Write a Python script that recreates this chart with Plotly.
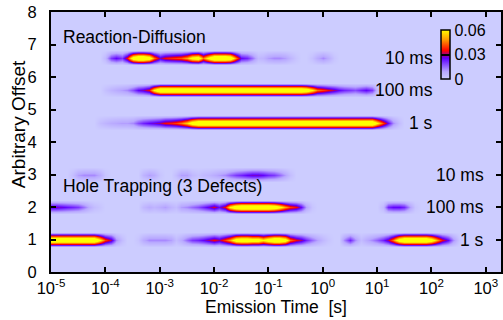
import plotly.graph_objects as go

# log10(emission time / s), grid step 0.1 decade
log_time = [round(-5.0 + 0.1 * i, 1) for i in range(83)]

# Hole trapping (3 defects)
ht_1s = [0.08,0.08,0.08,0.08,0.08,0.08,0.08,0.08,0.08,0.06,
         0.04,0.03,0.012,0.004,0,0,0.002,0.008,0.012,0.012,
         0.012,0.012,0.01,0.004,0.008,0.015,0.02,0.022,0.025,0.03,
         0.035,0.03,0.04,0.05,0.07,0.075,0.075,0.07,0.07,0.06,
         0.07,0.08,0.08,0.07,0.045,0.035,0.03,0.022,0.015,0.01,
         0.005,0.002,0,0,0.012,0.022,0.012,0.004,0.008,0.012,
         0.016,0.022,0.03,0.045,0.07,0.08,0.08,0.08,0.08,0.08,
         0.07,0.05,0.035,0.025,0.012,0.002,0,0,0,0,
         0,0,0]
ht_100ms = [0.028,0.028,0.026,0.024,0.022,0.02,0.014,0.008,0.004,0.002,
            0,0,0,0,0,0,0,0.005,0.008,0.006,
            0.008,0.01,0.006,0.004,0.01,0.012,0.015,0.018,0.022,0.027,
            0.033,0.025,0.035,0.06,0.075,0.08,0.08,0.08,0.08,0.08,
            0.08,0.075,0.065,0.05,0.04,0.035,0.025,0.01,0.002,0,
            0,0,0,0,0,0,0,0,0,0,
            0,0.005,0.022,0.025,0.025,0.022,0.01,0.002,0,0,
            0,0,0,0,0,0,0,0,0,0,
            0,0,0]
ht_10ms = [0,0,0,0,0.004,0.01,0.012,0.012,0.012,0.008,
           0.002,0,0,0,0,0,0,0.006,0.01,0.008,
           0.002,0,0,0.004,0.01,0.01,0.005,0.003,0.005,0.006,
           0.008,0.01,0.012,0.016,0.02,0.022,0.025,0.027,0.027,0.025,
           0.022,0.02,0.016,0.01,0.004,0,0,0,0,0,
           0,0,0,0,0,0,0,0,0,0,
           0,0,0,0,0,0,0,0,0,0,
           0,0,0,0,0,0,0,0,0,0,
           0,0,0]
# Reaction-diffusion
rd_1s = [0,0,0,0,0,0,0,0,0,0.004,
         0.006,0.008,0.009,0.01,0.01,0.012,0.018,0.022,0.025,0.027,
         0.03,0.035,0.037,0.04,0.045,0.055,0.07,0.08,0.08,0.08,
         0.08,0.08,0.08,0.08,0.08,0.08,0.08,0.08,0.08,0.08,
         0.08,0.08,0.08,0.08,0.08,0.08,0.08,0.08,0.08,0.08,
         0.08,0.08,0.08,0.08,0.08,0.08,0.08,0.08,0.08,0.08,
         0.06,0.04,0.025,0.012,0.004,0,0,0,0,0,
         0,0,0,0,0,0,0,0,0,0,
         0,0,0]
rd_100ms = [0,0,0,0,0,0,0,0,0,0,
            0.003,0.006,0.008,0.01,0.012,0.018,0.025,0.028,0.035,0.06,
            0.08,0.08,0.08,0.08,0.08,0.08,0.08,0.08,0.08,0.08,
            0.08,0.08,0.08,0.08,0.08,0.08,0.08,0.08,0.08,0.08,
            0.08,0.08,0.08,0.08,0.08,0.08,0.08,0.075,0.06,0.045,
            0.04,0.035,0.03,0.025,0.022,0.02,0.018,0.022,0.025,0.02,
            0.005,0,0,0,0,0,0,0,0,0,
            0,0,0,0,0,0,0,0,0,0,
            0,0,0]
rd_10ms = [0,0,0,0,0,0,0,0,0,0,
           0.005,0.02,0.025,0.02,0.035,0.07,0.08,0.08,0.07,0.045,
           0.028,0.035,0.038,0.04,0.042,0.05,0.065,0.07,0.045,0.065,
           0.08,0.08,0.08,0.075,0.045,0.025,0.022,0.015,0.005,0.006,
           0.01,0.012,0.012,0.01,0.006,0.002,0,0,0.003,0.008,
           0.012,0.008,0.002,0,0,0,0,0,0,0,
           0,0,0,0,0,0,0,0,0,0,
           0,0,0,0,0,0,0,0,0,0,
           0,0,0]

row_offsets = [1, 2, 3, 4.6, 5.6, 6.6]
row_values = [ht_1s, ht_100ms, ht_10ms, rd_1s, rd_100ms, rd_10ms]
row_labels = ["1 s", "100 ms", "10 ms", "1 s", "100 ms", "10 ms"]

x_tick_vals = [-5, -4, -3, -2, -1, 0, 1, 2, 3]
x_tick_text = ["10<sup>%d</sup>" % v for v in x_tick_vals]
y_tick_vals = [0, 1, 2, 3, 4, 5, 6, 7, 8]
cbar_ticks = [0, 0.03, 0.06]

BG = "rgb(204,204,255)"
half = 0.23
zero_row = [0] * len(log_time)
y_grid = [0]
z_grid = [zero_row]
for off, vals in zip(row_offsets, row_values):
    y_grid += [off - half, off, off + half]
    z_grid += [zero_row, vals, zero_row]
y_grid.append(8)
z_grid.append(zero_row)

cscale = [[0, "#ccccff"], [0.15, "#b8a8ff"], [0.42, "#6000ff"], [0.5, "#a0007f"],
          [0.58, "#ff0000"], [0.8, "#ff9900"], [1, "#ffff00"]]

font = "Liberation Sans, Arial, sans-serif"
big = 17.5
fig = go.Figure(go.Heatmap(
    x=log_time, y=y_grid, z=z_grid, zmin=0, zmax=0.06, zsmooth="best",
    colorscale=cscale, hoverinfo="skip",
    colorbar=dict(x=(443 - 51) / 452, xanchor="left", y=(272 - 54.5) / 260, yanchor="middle",
                  len=49, lenmode="pixels", thickness=9, thicknessmode="pixels",
                  outlinecolor="black", outlinewidth=1.5, xpad=0, ypad=0,
                  tickvals=cbar_ticks, ticktext=["0", "0.03", "0.06"],
                  ticks="inside", ticklen=9, tickcolor="black", tickwidth=1.5,
                  tickfont=dict(family=font, size=16, color="black"))))

ann = [dict(text="Reaction-Diffusion", xref="paper", x=(61 - 51) / 452, xanchor="left",
            yref="y", y=7.23, yanchor="middle", showarrow=False,
            font=dict(family=font, size=big, color="black")),
       dict(text="Hole Trapping (3 Defects)", xref="paper", x=(61 - 51) / 452, xanchor="left",
            yref="y", y=2.65, yanchor="middle", showarrow=False,
            font=dict(family=font, size=big, color="black")),
       dict(text="Arbitrary Offset", xref="paper", x=(18 - 51) / 452, xanchor="center",
            yref="paper", y=(272 - 124) / 260, yanchor="middle", textangle=-90,
            showarrow=False, font=dict(family=font, size=19, color="black"))]
for off, lab in zip(row_offsets, row_labels):
    xr = (437 - 51) / 452 if off > 4 else (488 - 51) / 452
    ann.append(dict(text=lab, xref="paper", x=xr, xanchor="right", yref="y", y=off,
                    yanchor="middle", showarrow=False,
                    font=dict(family=font, size=big, color="black")))

fig.update_layout(
    width=503, height=320, margin=dict(l=51, r=0, t=12, b=48),
    plot_bgcolor=BG, paper_bgcolor="white", annotations=ann,
    font=dict(family=font, size=16, color="black"),
    xaxis=dict(range=[-5, 3.28], tickvals=x_tick_vals, ticktext=x_tick_text,
               ticks="inside", ticklen=5, tickwidth=1.5, tickcolor="black",
               showline=True, linecolor="black", linewidth=2, mirror="ticks",
               showgrid=False, zeroline=False, tickfont=dict(size=16.5),
               title=dict(text="Emission Time  [s]", standoff=2, font=dict(size=big))),
    yaxis=dict(range=[0, 8], tickvals=y_tick_vals, ticks="inside", ticklen=5,
               tickwidth=1.5, tickcolor="black", showline=True, linecolor="black",
               linewidth=2, mirror="ticks", showgrid=False, zeroline=False,
               ticklabelstandoff=9, tickfont=dict(size=16.5)),
)
fig.write_html("out.html")
